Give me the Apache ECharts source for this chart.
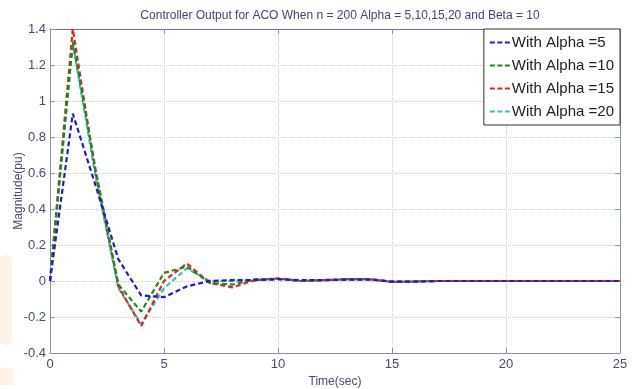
<!DOCTYPE html>
<html>
<head>
<meta charset="utf-8">
<script src="https://cdn.jsdelivr.net/npm/echarts@6/dist/echarts.min.js"></script>
<style>
html,body{margin:0;padding:0;background:#fff}
#chart{width:641px;height:389px}
</style>
</head>
<body>
<div id="chart"></div>
<script>
// === 數據 ===
const TIME=[0,1,2,3,4,5,6,7,8,9,10,11,12,13,14,15,16,17,18,19,20,21,22,23,24,25];
const ALPHA5 =[0,0.93,0.53,0.12,-0.08,-0.09,-0.03,0,0.005,0.005,0.01,0.005,0.005,0.008,0.008,-0.003,-0.003,0,0,0,0,0,0,0,0,0];
const ALPHA10=[0,1.33,0.62,-0.02,-0.17,0.045,0.08,-0.01,-0.02,0.01,0.012,0,0.004,0.01,0.01,-0.004,-0.003,0,0,0,0,0,0,0,0,0];
const ALPHA15=[0,1.40,0.60,-0.03,-0.25,0,0.097,-0.01,-0.035,0.005,0.015,0,0.005,0.01,0.01,-0.005,-0.003,0,0,0,0,0,0,0,0,0];
const ALPHA20=[0,1.32,0.58,-0.04,-0.24,-0.04,0.07,0,0,0.005,0.01,0,0.004,0.008,0.01,-0.004,-0.003,0,0,0,0,0,0,0,0,0];
const NAMES=['With Alpha =5','With Alpha =10','With Alpha =15','With Alpha =20'];
const COLORS=['#1c1cc8','#1e8a1e','#e82020','#2ec4c0'];

function pairs(vals){return TIME.map(function(t,i){return [t,vals[i]]})}

const chart=echarts.init(document.getElementById('chart'));
const txt='#464c6e';
const axisBase={
  axisLine:{show:true,onZero:false,lineStyle:{color:'#8a90aa',width:1}},
  axisTick:{show:true,inside:true,length:5,lineStyle:{color:'#8a90aa'}},
  splitLine:{show:true,lineStyle:{color:'#cfcfcf',type:'dotted'}}
};
const series=[ALPHA5,ALPHA10,ALPHA15,ALPHA20].map(function(v,i){
  return {
    name:NAMES[i],type:'line',data:pairs(v),symbol:'none',z:10-i,
    lineStyle:{color:COLORS[i],width:2.2,type:[5,3]},itemStyle:{color:COLORS[i]}
  };
});

chart.setOption({
  animation:false,
  backgroundColor:'#fff',
  graphic:[
    {type:'rect',shape:{x:0,y:255,width:12,height:90,r:5},style:{fill:'#fef3e9'},silent:true},
    {type:'rect',shape:{x:0,y:368,width:14,height:17},style:{fill:'#fef3e9'},silent:true}
  ],
  title:{
    text:'Controller Output for ACO When n = 200 Alpha = 5,10,15,20 and Beta = 10',
    left:335,top:5,textAlign:'center',
    textStyle:{color:'#3c4675',fontFamily:'Arial',fontSize:12,fontWeight:'normal'}
  },
  grid:{left:50,right:21,top:29,bottom:36,containLabel:false,outerBoundsMode:'none'},
  legend:{
    right:21,top:29,orient:'vertical',
    backgroundColor:'#fff',borderColor:'#333',borderWidth:1,
    padding:[6,6,6,6],itemGap:8,itemWidth:20,itemHeight:3,
    textStyle:{color:'#222',fontFamily:'Arial',fontSize:15,padding:[0,0,0,-3]},
    data:NAMES.map(function(n){return {name:n,icon:'path://M0,0H5V2H0Z M7.5,0H12.5V2H7.5Z M15,0H20V2H15Z'}})
  },
  xAxis:[
    Object.assign({},axisBase,{type:'value',min:0,max:25,interval:5,
      name:'Time(sec)',nameLocation:'middle',nameGap:23,nameMoveOverlap:false,
      nameTextStyle:{color:txt,fontFamily:'Arial',fontSize:12},
      axisLabel:{color:txt,fontFamily:'Arial',fontSize:13,margin:5}}),
    {type:'value',position:'top',min:0,max:25,interval:5,
      axisLine:{show:true,onZero:false,lineStyle:{color:'#6a70a0'}},
      axisTick:{show:true,inside:true,length:5,lineStyle:{color:'#8a90aa'}},
      axisLabel:{show:false},splitLine:{show:false}}
  ],
  yAxis:[
    Object.assign({},axisBase,{type:'value',min:-0.4,max:1.4,interval:0.2,
      name:'Magnitude(pu)',nameLocation:'middle',nameGap:25,nameRotate:90,nameMoveOverlap:false,
      nameTextStyle:{color:txt,fontFamily:'Arial',fontSize:12},
      axisLabel:{color:txt,fontFamily:'Arial',fontSize:13,margin:4}}),
    {type:'value',position:'right',min:-0.4,max:1.4,interval:0.2,
      axisLine:{show:true,onZero:false,lineStyle:{color:'#8a90aa'}},
      axisTick:{show:true,inside:true,length:5,lineStyle:{color:'#8a90aa'}},
      axisLabel:{show:false},splitLine:{show:false}}
  ],
  series:series
});
</script>
</body>
</html>
